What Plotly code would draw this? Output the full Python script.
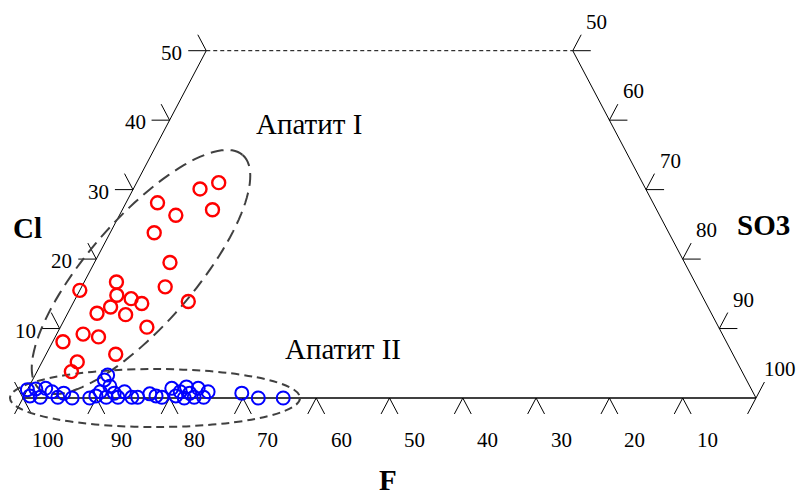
import numpy as np
import plotly.graph_objects as go

# ---- data: ternary compositions (Cl, F, SO3), mass % ----
cl_I = [31.0, 30.1, 27.1, 28.1, 26.3, 23.8, 19.5, 16.0, 13.9, 16.7, 15.5, 14.8,
        14.3, 13.6, 13.1, 12.0, 12.2, 10.2, 9.2, 8.8, 8.1, 6.3, 5.2, 3.8]
f_I = [57.8, 60.8, 60.6, 67.6, 66.0, 70.2, 70.2, 72.6, 70.5, 78.9, 84.5, 79.8,
       78.1, 77.0, 81.5, 80.0, 83.8, 78.0, 87.2, 85.3, 90.5, 84.2, 90.0, 91.5]
so3_I = [11.2, 9.1, 12.3, 4.3, 7.7, 6.0, 10.3, 11.4, 15.6, 4.4, 0.0, 5.4,
         7.6, 9.4, 5.4, 8.0, 4.0, 11.8, 3.6, 5.9, 1.4, 9.5, 4.8, 4.7]

cl_II = [1.2, 0.3, 1.3, 0.1, 1.4, 0.9, 0.1, 0.7, 0.0, 0.0, 0.3, 0.9, 2.6, 3.3,
         0.1, 1.7, 0.7, 0.1, 0.9, 0.1, 0.1, 0.6, 0.3, 0.1, 1.4, 0.3, 0.9, 0.0,
         1.6, 0.7, 0.1, 1.4, 0.1, 0.9, 0.7, 0.0, 0.0]
f_II = [98.8, 98.9, 97.6, 97.6, 96.2, 95.6, 95.2, 94.1, 93.3, 90.9, 89.9, 89.0,
        87.6, 86.8, 88.6, 87.3, 87.2, 87.0, 85.7, 85.1, 84.3, 82.4, 81.7, 81.0,
        79.0, 79.0, 78.1, 78.0, 76.9, 76.9, 76.6, 75.4, 75.3, 74.3, 69.8, 67.9, 64.5]
so3_II = [0.0, 0.8, 1.1, 2.3, 2.4, 3.5, 4.7, 5.2, 6.7, 9.1, 9.8, 10.1, 9.8, 9.9,
          11.3, 11.0, 12.1, 12.9, 13.4, 14.8, 15.6, 17.0, 18.0, 18.9, 19.6, 20.7,
          21.0, 22.0, 21.5, 22.4, 23.3, 23.2, 24.6, 24.8, 29.5, 32.1, 35.5]

cl_ticks = [10, 20, 30, 40, 50]
so3_ticks = [50, 60, 70, 80, 90, 100]
f_ticks = [10, 20, 30, 40, 50, 60, 70, 80, 90, 100]
CL_MAX = 50

# ---- layout constants (pixel geometry) ----
W, H = 798, 498
X0, Y0 = 23.0, 398.0     # pixel of F=100 vertex
SX, SY = 7.33, 6.946     # pixels per ternary unit (x, y)


def proj(cl, f, so3):
    cl, f, so3 = map(np.asarray, (cl, f, so3))
    tot = cl + f + so3
    return 100 * (so3 + cl / 2) / tot, 100 * cl / tot


def px2d(px, py):
    return (px - X0) / SX, (Y0 - py) / SY


fig = go.Figure()
shapes = []
annotations = []
BLACK = "#000000"


def seg(x0, y0, x1, y1, width=1, dash="solid", color=BLACK):
    shapes.append(dict(type="line", xref="x", yref="y", x0=x0, y0=y0, x1=x1, y1=y1,
                       line=dict(color=color, width=width, dash=dash), layer="below"))


# frame (truncated ternary)
seg(0, 0, 100, 0, width=1.6)                                # bottom (Cl = 0)
seg(0, 0, CL_MAX / 2, CL_MAX, width=1)                      # left (SO3 = 0)
seg(100, 0, 100 - CL_MAX / 2, CL_MAX, width=1)              # right (F = 0)
seg(CL_MAX / 2, CL_MAX, 100 - CL_MAX / 2, CL_MAX, width=1, dash="4px,3px")  # top

T = 2.3     # diagonal tick length (ternary units)
TH = 2.46   # horizontal tick length (x units)

lab_font = dict(family="Liberation Serif, Times New Roman, serif", size=21, color="#000")

# left axis (Cl) ticks
for c in [0] + cl_ticks:
    x, y = c / 2, c
    seg(x, y, x - T / 2, y + T)
    if c > 0:
        seg(x, y, x - TH, y)
        annotations.append(dict(x=x - TH, y=y, xref="x", yref="y", text=str(c),
                                showarrow=False, xanchor="right", yanchor="middle",
                                xshift=-4, yshift=-2, font=lab_font))

# right axis (SO3) ticks
for s in so3_ticks:
    c = 100 - s
    x, y = s + c / 2, c
    seg(x, y, x + T / 2, y + T)
    if s < 100:
        seg(x, y, x + TH, y)
    else:
        seg(x, y, x - T / 2, y - T)
    annotations.append(dict(x=x, y=y, xref="x", yref="y", text=str(s),
                            showarrow=False, xanchor="center", yanchor="middle",
                            xshift=24, yshift=29, font=lab_font))

# bottom axis (F) ticks
for f in f_ticks:
    x = 100 - f
    seg(x, 0, x - T / 2, -T)
    seg(x, 0, x + T / 2, -T)
    annotations.append(dict(x=x, y=0, xref="x", yref="y", text=str(f),
                            showarrow=False, xanchor="center", yanchor="middle",
                            xshift=25, yshift=-42, font=lab_font))

# group ellipses
phi = np.linspace(0, 2 * np.pi, 121)
th = np.deg2rad(49)
cx, cy, ea, eb = 141, 272, 155, 53
ex = cx + ea * np.cos(phi) * np.cos(th) + eb * np.sin(phi) * np.sin(th)
ey = cy - ea * np.cos(phi) * np.sin(th) + eb * np.sin(phi) * np.cos(th)
dx, dy = px2d(ex, ey)
path = "M " + " L ".join(f"{a:.3f},{b:.3f}" for a, b in zip(dx, dy)) + " Z"
shapes.append(dict(type="path", xref="x", yref="y", path=path,
                   line=dict(color="#404040", width=2, dash="13px,7px"), layer="below"))

e2x0, e2y0 = px2d(10, 427)
e2x1, e2y1 = px2d(300, 369)
shapes.append(dict(type="circle", xref="x", yref="y", x0=e2x0, y0=e2y0, x1=e2x1, y1=e2y1,
                   line=dict(color="#404040", width=2, dash="8px,5px"), layer="below"))

# data traces
xI, yI = proj(cl_I, f_I, so3_I)
xII, yII = proj(cl_II, f_II, so3_II)
fig.add_trace(go.Scatter(x=xI, y=yI, mode="markers", name="Апатит I",
                         marker=dict(symbol="circle-open", size=13, color="#ff0000",
                                     line=dict(width=2.4))))
fig.add_trace(go.Scatter(x=xII, y=yII, mode="markers", name="Апатит II",
                         marker=dict(symbol="circle-open", size=13, color="#0000ff",
                                     line=dict(width=2))))

title_font = dict(family="Liberation Serif, Times New Roman, serif", size=29, color="#000")
txt_font = dict(family="Liberation Serif, Times New Roman, serif", size=29, color="#000")


def ptext(px, py, text, font):
    annotations.append(dict(x=px / W, y=1 - py / H, xref="paper", yref="paper", text=text,
                            showarrow=False, xanchor="center", yanchor="middle", font=font))


ptext(27, 228, "<b>Cl</b>", title_font)
ptext(763, 225, "<b>SO3</b>", title_font)
ptext(388, 480, "<b>F</b>", title_font)
ptext(309, 124, "Апатит I", txt_font)
ptext(343, 349, "Апатит II", txt_font)

xr0, yr0 = px2d(0, H)
xr1, yr1 = px2d(W, 0)
fig.update_layout(
    width=W, height=H, autosize=False,
    margin=dict(l=0, r=0, t=0, b=0),
    paper_bgcolor="white", plot_bgcolor="white",
    showlegend=False,
    xaxis=dict(range=[xr0, xr1], visible=False, fixedrange=True),
    yaxis=dict(range=[yr0, yr1], visible=False, fixedrange=True),
    shapes=shapes, annotations=annotations,
)
fig.write_html("out.html", config={"displayModeBar": False},
               post_script="document.body.style.margin='0';document.body.style.overflow='hidden';")
